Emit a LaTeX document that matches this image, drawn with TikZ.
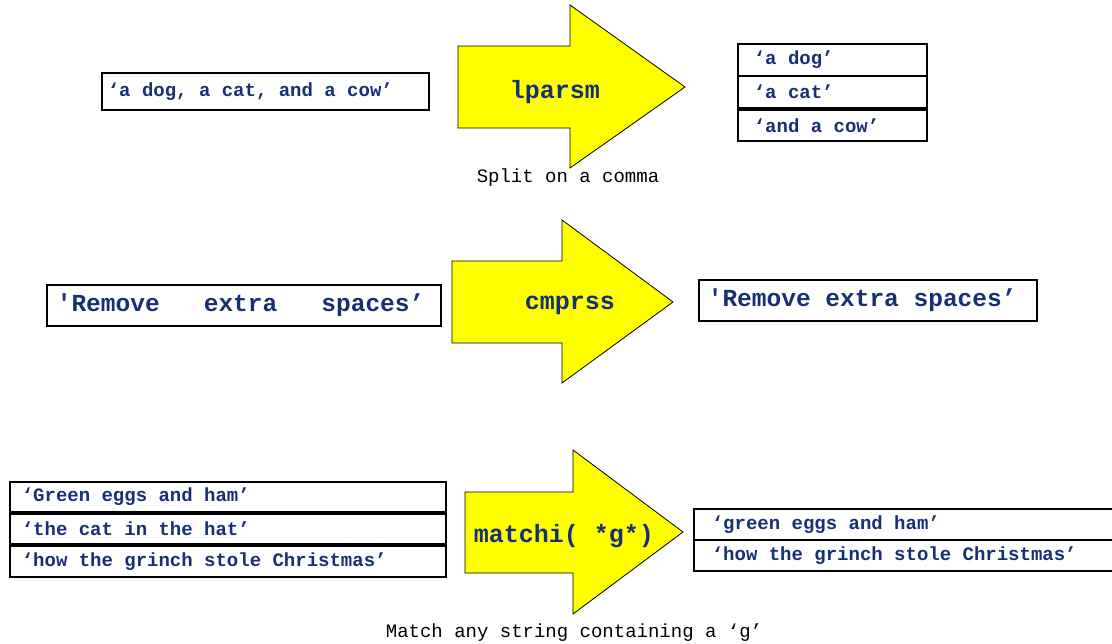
\documentclass[tikz,border=0pt]{standalone}
\usepackage{fontspec}
\setmonofont{Liberation Mono}
\usepackage{tikz}
\usepackage{xcolor}

\definecolor{strblue}{RGB}{22,48,118}
\definecolor{opyellow}{RGB}{255,255,0}

% string cell: fixed width, text flush left
\newcommand{\strcell}[2]{\makebox[#1][l]{#2}}

\tikzset{
  strbox/.style={draw, line width=1.6pt, anchor=north west,
    inner ysep=0pt, text=strblue, font=\ttfamily\bfseries\fontsize{19}{22}\selectfont},
  bigbox/.style={strbox, font=\ttfamily\bfseries\fontsize{24.5}{28}\selectfont},
  opname/.style={text=strblue, font=\ttfamily\bfseries\fontsize{25}{28}\selectfont},
  caption/.style={font=\ttfamily\fontsize{19}{22}\selectfont},
  fatarrow/.style={draw, line width=0.8pt, fill=opyellow, line join=miter},
}

\begin{document}
\begin{tikzpicture}[x=1pt,y=-1pt]
\useasboundingbox (0,0) rectangle (1112,644);

% lparsm: split on a comma
\draw[fatarrow] (458,46) -- (570,46) -- (570,5) -- (685,87) -- (570,168) -- (570,128) -- (458,128) -- cycle;
\node[opname] (split) at (555,92) {lparsm};
\node[caption] (splitnote) at (568,178) {Split on a comma};
\node[strbox, inner xsep=6pt, minimum height=37pt] (splitin) at (101,72) {\strcell{315pt}{‘a dog, a cat, and a cow’}};
\node[strbox, inner xsep=16pt, minimum height=32pt] (splitout1) at (737,43) {\strcell{157pt}{‘a dog’}};
\node[strbox, inner xsep=16pt, minimum height=32pt] (splitout2) at (737,75) {\strcell{157pt}{‘a cat’}};
\node[strbox, inner xsep=16pt, minimum height=31pt] (splitout3) at (737,109) {\strcell{157pt}{‘and a cow’}};

% cmprss: squeeze the blanks
\draw[fatarrow] (452,261) -- (562,261) -- (562,220) -- (673,302) -- (562,383) -- (562,343) -- (452,343) -- cycle;
\node[opname] (squeeze) at (570,305) {cmprss};
\node[bigbox, inner xsep=10pt, minimum height=41pt] (squeezein) at (46,284) {\strcell{374pt}{'Remove\ \ \ extra\ \ \ spaces’}};
\node[bigbox, inner xsep=9pt, minimum height=41pt] (squeezeout) at (698,279) {\strcell{320pt}{'Remove extra spaces’}};

% matchi: keep the strings with a g
\draw[fatarrow] (465,492) -- (573,492) -- (573,450) -- (683,532) -- (573,614) -- (573,573) -- (465,573) -- cycle;
\node[opname] (match) at (564,536) {matchi( *g*)};
\node[caption] (matchnote) at (574,633) {Match any string containing a ‘g’};
\node[strbox, inner xsep=12pt, minimum height=30pt] (matchin1) at (9,481) {\strcell{412pt}{‘Green eggs and ham’}};
\node[strbox, inner xsep=12pt, minimum height=30pt] (matchin2) at (9,513) {\strcell{412pt}{‘the cat in the hat’}};
\node[strbox, inner xsep=12pt, minimum height=31pt] (matchin3) at (9,545) {\strcell{412pt}{‘how the grinch stole Christmas’}};
\node[strbox, inner xsep=18pt, minimum height=31pt] (matchout1) at (693,508) {\strcell{390pt}{‘green eggs and ham’}};
\node[strbox, inner xsep=18pt, minimum height=31pt] (matchout2) at (693,539) {\strcell{390pt}{‘how the grinch stole Christmas’}};
\end{tikzpicture}
\end{document}
